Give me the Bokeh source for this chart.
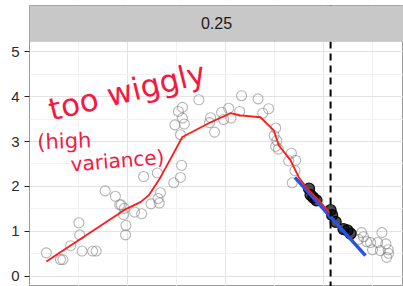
from bokeh.plotting import figure
from bokeh.models import Range1d, FixedTicker, Span, Label, BoxAnnotation
from bokeh.embed import file_html
from bokeh.resources import INLINE

# ---- data ----
gray_x = [0.43, 0.79, 0.85, 1.05, 1.26, 1.28, 1.34, 1.61, 1.70, 1.93, 2.19, 2.30, 2.34, 2.42,
          2.40, 2.46, 2.45, 2.68, 2.86, 2.91, 3.10, 3.26, 3.28, 3.31, 3.34, 3.68, 3.88, 3.85,
          3.71, 3.80, 3.90, 3.90, 3.95, 3.85, 4.32, 4.62, 4.59, 4.72, 4.90, 5.08, 4.95, 5.14,
          5.36, 5.41, 5.83, 5.95, 6.10, 6.28, 6.24, 6.31, 6.28, 6.35, 6.68, 6.61, 6.79, 6.77,
          6.70,
          8.39, 8.47, 8.52, 8.60, 8.70, 8.75, 8.88, 8.95, 8.99, 9.09, 9.15, 9.11, 9.16]
gray_y = [0.52, 0.37, 0.37, 0.68, 1.19, 0.92, 0.56, 0.56, 0.56, 1.90, 1.78, 1.59, 1.59, 1.51,
          1.37, 1.13, 0.92, 1.43, 1.39, 2.22, 1.61, 2.30, 1.73, 1.63, 1.86, 2.08, 2.47, 2.20,
          3.37, 3.67, 3.76, 3.52, 3.39, 3.15, 3.93, 3.53, 3.42, 3.21, 3.65, 3.74, 3.49, 3.52,
          3.67, 4.02, 3.95, 3.63, 3.73, 3.30, 3.13, 3.02, 2.89, 2.83, 2.74, 2.57, 2.58, 2.35,
          2.08,
          0.82, 0.97, 0.88, 0.77, 0.75, 0.59, 0.75, 0.57, 0.97, 0.72, 0.59, 0.42, 0.51]

near_x = [7.13, 7.17, 7.24, 7.32, 7.68, 7.72, 7.81, 8.01, 8.11, 8.19]
near_y = [1.95, 1.81, 1.75, 1.69, 1.47, 1.36, 1.21, 1.05, 1.02, 0.95]

smooth_x = [0.43, 2.47, 2.83, 3.04, 3.34, 3.90, 4.62, 5.13, 5.38, 5.89, 6.23, 6.36, 6.66,
            6.87, 7.13, 7.38, 7.68]
smooth_y = [0.33, 1.50, 1.65, 1.80, 2.20, 3.10, 3.43, 3.63, 3.58, 3.54, 3.25, 2.91, 2.58,
            2.20, 1.91, 1.69, 1.39]

fit_x = [6.77, 8.57]
fit_y = [2.20, 0.46]

x0 = 7.68
facet_label = "0.25"
y_ticks = [0, 1, 2, 3, 4, 5]
y_minor = [0.5, 1.5, 2.5, 3.5, 4.5]
x_major = [2.5, 5.0, 7.5]
x_minor = [1.25, 3.75, 6.25, 8.75]

XMAX = 9.54
YMIN, YMAX = -0.229, 6.029
STRIP_BOTTOM = 5.227

p = figure(width=403, height=286, output_backend="svg", toolbar_location=None,
           x_range=Range1d(0, XMAX), y_range=Range1d(YMIN, YMAX),
           min_border_left=29, min_border_right=0, min_border_top=5, min_border_bottom=0)
p.background_fill_color = "white"
p.border_fill_color = "white"
p.outline_line_color = "#9A9A9A"
p.outline_line_width = 1

p.xaxis.visible = False
p.xgrid.ticker = FixedTicker(ticks=x_major, minor_ticks=x_minor)
p.yaxis.ticker = FixedTicker(ticks=y_ticks, minor_ticks=y_minor)
p.ygrid.ticker = FixedTicker(ticks=y_ticks, minor_ticks=y_minor)
for g in (p.xgrid, p.ygrid):
    g.grid_line_color = "#E3E3E3"
    g.grid_line_width = 1
    g.minor_grid_line_color = "#F1F1F1"
    g.minor_grid_line_width = 1

ax = p.yaxis[0]
ax.axis_line_color = None
ax.major_tick_out = 5
ax.major_tick_in = 0
ax.major_tick_line_color = "#222222"
ax.major_tick_line_width = 1.2
ax.minor_tick_line_color = None
ax.major_label_text_font = "Liberation Sans"
ax.major_label_text_font_size = "15px"
ax.major_label_text_color = "#2A2A2A"
ax.major_label_standoff = 5

p.scatter(gray_x, gray_y, size=10, fill_color=None, line_color="#7A7A7A",
          line_alpha=0.55, line_width=1.1)
p.scatter(near_x, near_y, size=11, fill_color="black", fill_alpha=0.7,
          line_color="black", line_alpha=0.9, line_width=1.3)
p.line(fit_x, fit_y, line_color="#2A52E8", line_width=3.5)
p.line(smooth_x, smooth_y, line_color="#FF1A1A", line_width=1.8)
p.add_layout(Span(location=x0, dimension="height", line_color="black",
                  line_width=2, line_dash="7 5"))

strip = BoxAnnotation(left=0, right=XMAX, bottom=STRIP_BOTTOM, top=YMAX,
                      fill_color="#C8C8C8", fill_alpha=1.0,
                      line_color="#A0A0A0", line_width=1)
p.add_layout(strip)
p.add_layout(Label(x=4.77, y=5.63, text=facet_label, text_align="center",
                   text_baseline="middle", text_font="Liberation Sans",
                   text_font_size="16px", text_color="#1A1A1A"))

red = "#F5193F"
p.add_layout(Label(x=0.50, y=3.70, text="too wiggly", angle=0.24,
                   text_font="DejaVu Sans", text_font_size="31px",
                   text_color=red, text_align="left", text_baseline="alphabetic"))
p.add_layout(Label(x=0.20, y=2.98, text="(high", angle=0.04,
                   text_font="DejaVu Sans", text_font_size="21px",
                   text_color=red, text_align="left", text_baseline="alphabetic"))
p.add_layout(Label(x=1.05, y=2.49, text="variance)", angle=0.08,
                   text_font="DejaVu Sans", text_font_size="20px",
                   text_color=red, text_align="left", text_baseline="alphabetic"))

open("out.html", "w").write(file_html(p, INLINE))
